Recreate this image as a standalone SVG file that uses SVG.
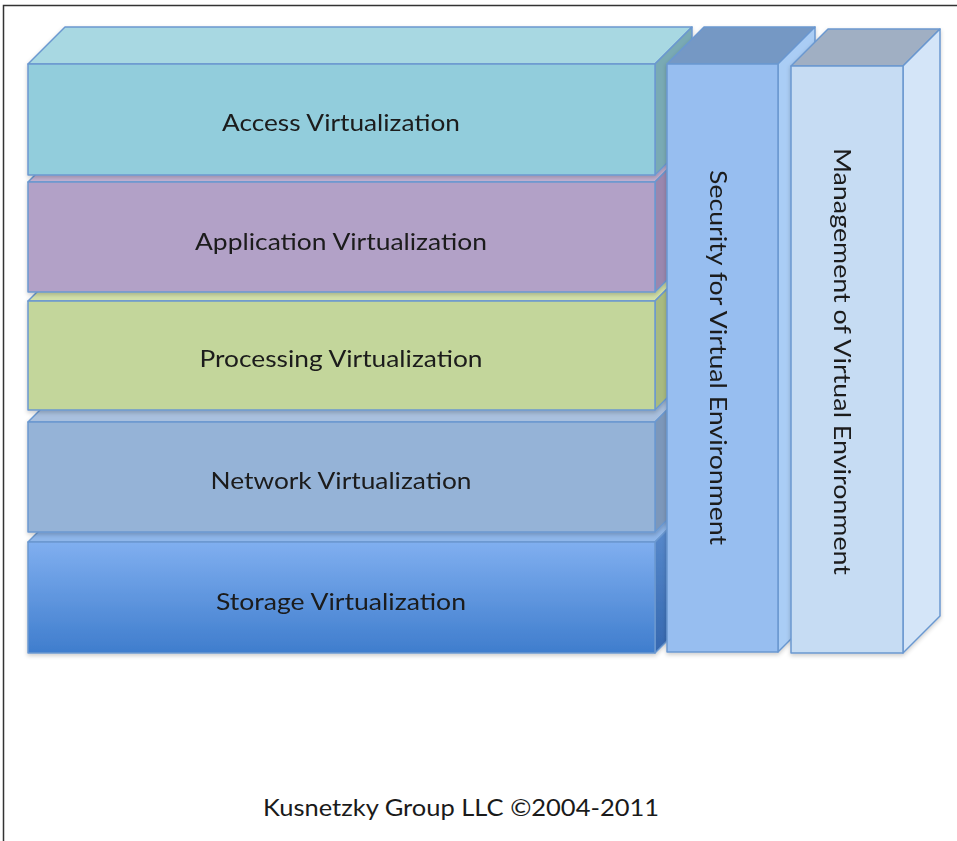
<svg xmlns="http://www.w3.org/2000/svg" width="957" height="841" viewBox="0 0 957 841">
<defs>
  <linearGradient id="gStorage" x1="0" y1="0" x2="0" y2="1">
    <stop offset="0" stop-color="#80AFF0"/>
    <stop offset="1" stop-color="#3F7DCD"/>
  </linearGradient>
  <linearGradient id="gStorageSide" x1="0" y1="0" x2="0" y2="1">
    <stop offset="0" stop-color="#5E8FD0"/>
    <stop offset="1" stop-color="#3568B0"/>
  </linearGradient>
  <filter id="sh" x="-5%" y="-5%" width="110%" height="115%">
    <feDropShadow dx="0" dy="2" stdDeviation="2" flood-color="#000" flood-opacity="0.2"/>
  </filter>
</defs>
<style>
  .edge { stroke: #6B98D0; stroke-width: 1.5; stroke-linejoin: round; }
  .lbl { font-family: Lato, "Open Sans", "Liberation Sans", sans-serif; font-size: 24px; fill: #1A1A1A; text-anchor: middle; }
</style>
<rect x="0" y="0" width="957" height="841" fill="#FFFFFF"/>
<g id="frame" fill="none" stroke="#333333" stroke-width="1.5">
  <path d="M3.5,841 V5.5 H957"/>
</g>

<g id="storage" filter="url(#sh)">
  <polygon class="edge" points="28,542 65,505 692,505 655,542" fill="#8EB6EA"/>
  <polygon class="edge" points="655,542 692,505 692,616 655,653" fill="url(#gStorageSide)"/>
  <rect class="edge" x="28" y="542" width="627" height="111" fill="url(#gStorage)"/>
  <text class="lbl" x="341" y="610" textLength="250" lengthAdjust="spacingAndGlyphs">Storage Virtualization</text>
</g>
<g id="network" filter="url(#sh)">
  <polygon class="edge" points="28,422 65,385 692,385 655,422" fill="#A9C0DE"/>
  <polygon class="edge" points="655,422 692,385 692,495 655,532" fill="#7C97BA"/>
  <rect class="edge" x="28" y="422" width="627" height="110" fill="#95B3D7"/>
  <text class="lbl" x="341" y="489" textLength="261" lengthAdjust="spacingAndGlyphs">Network Virtualization</text>
</g>
<g id="processing" filter="url(#sh)">
  <polygon class="edge" points="28,301 65,264 692,264 655,301" fill="#D2E0A9"/>
  <polygon class="edge" points="655,301 692,264 692,373 655,410" fill="#A8BA80"/>
  <rect class="edge" x="28" y="301" width="627" height="109" fill="#C3D69B"/>
  <text class="lbl" x="341" y="367" textLength="283" lengthAdjust="spacingAndGlyphs">Processing Virtualization</text>
</g>
<g id="application" filter="url(#sh)">
  <polygon class="edge" points="28,182 65,145 692,145 655,182" fill="#C2B1D2"/>
  <polygon class="edge" points="655,182 692,145 692,255 655,292" fill="#9A87AE"/>
  <rect class="edge" x="28" y="182" width="627" height="110" fill="#B2A1C7"/>
  <text class="lbl" x="341" y="250" textLength="292" lengthAdjust="spacingAndGlyphs">Application Virtualization</text>
</g>
<g id="access" filter="url(#sh)">
  <polygon class="edge" points="28,64 65,27 692,27 655,64" fill="#A8D8E2"/>
  <polygon class="edge" points="655,64 692,27 692,138 655,175" fill="#79AAB4"/>
  <rect class="edge" x="28" y="64" width="627" height="111" fill="#92CDDC"/>
  <text class="lbl" x="341" y="131" textLength="238" lengthAdjust="spacingAndGlyphs">Access Virtualization</text>
</g>

<g id="security" filter="url(#sh)">
  <polygon class="edge" points="667,64 704,27 815,27 778,64" fill="#7598C4"/>
  <polygon class="edge" points="778,64 815,27 815,615 778,652" fill="#AACDF5"/>
  <rect class="edge" x="667" y="64" width="111" height="588" fill="#97BEF0"/>
  <text class="lbl" transform="translate(710,357.5) rotate(90)" x="0" y="0" textLength="375" lengthAdjust="spacingAndGlyphs">Security for Virtual Environment</text>
</g>
<g id="management" filter="url(#sh)">
  <polygon class="edge" points="791,66 828,29 940,29 903,66" fill="#A0AFC3"/>
  <polygon class="edge" points="903,66 940,29 940,616 903,653" fill="#D4E5F8"/>
  <rect class="edge" x="791" y="66" width="112" height="587" fill="#C6DCF3"/>
  <text class="lbl" transform="translate(834,361.5) rotate(90)" x="0" y="0" textLength="427" lengthAdjust="spacingAndGlyphs">Management of Virtual Environment</text>
</g>

<g id="footer">
  <text class="lbl" x="461" y="816" textLength="396" lengthAdjust="spacingAndGlyphs">Kusnetzky Group LLC ©2004-2011</text>
</g>
</svg>
